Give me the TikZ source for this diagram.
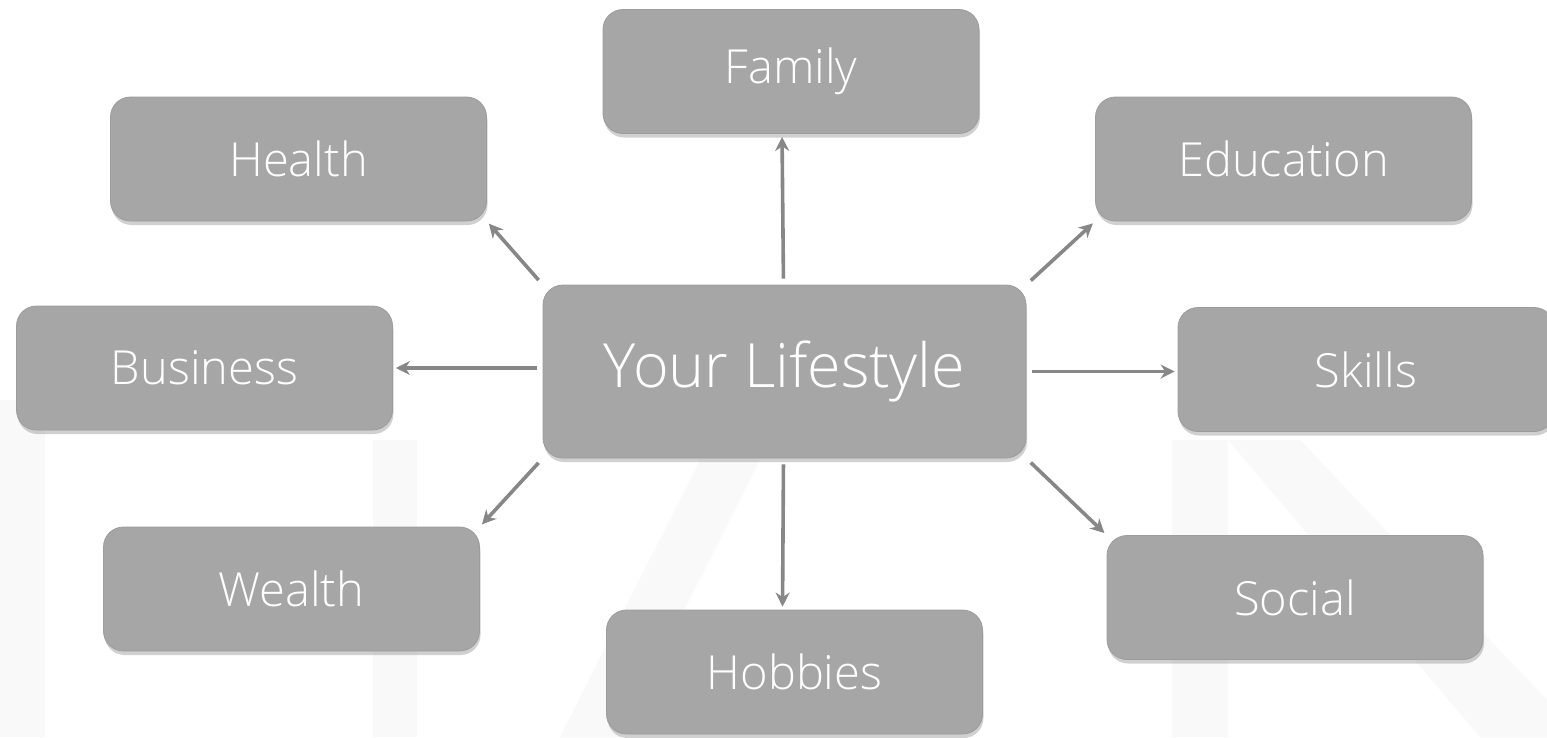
\documentclass[tikz,border=0pt]{standalone}
\usepackage{fontspec}
\setmainfont{Open Sans Light}
\usetikzlibrary{arrows.meta,shadows}
\definecolor{boxfill}{HTML}{A6A6A6}
\definecolor{boxline}{HTML}{9C9C9C}
\definecolor{arrowgray}{HTML}{878787}
\definecolor{markgray}{HTML}{F9F9F9}
\tikzset{
  topic/.style={rectangle, rounded corners=20pt, fill=boxfill, draw=boxline, line width=0.8pt,
    minimum width=376pt, minimum height=124pt, text=white, inner sep=0pt,
    font=\fontsize{47}{50}\selectfont,
    drop shadow={shadow xshift=1pt, shadow yshift=-4pt, opacity=0.3, fill=black!60}},
  hub/.style={topic, minimum width=483pt, minimum height=173pt, font=\fontsize{61}{64}\selectfont},
  link/.style={draw=arrowgray, line width=3.6pt, -{Stealth[length=14pt,width=14pt]},
    shorten <=6pt, shorten >=3pt}
}
\begin{document}
\begin{tikzpicture}[x=1pt,y=-1pt]
\useasboundingbox (0,0) rectangle (1547,737);
\fill[white] (0,0) rectangle (1547,737);
% faint letter shapes in the background
\fill[markgray] (0,400) rectangle (45,737);
\fill[markgray] (373,440) rectangle (417,737);
\fill[markgray] (560,737) -- (700,460) -- (760,460) -- (620,737) -- cycle;
\fill[markgray] (1172,440) rectangle (1228,737);
\fill[markgray] (1228,440) -- (1300,440) -- (1547,700) -- (1547,737) -- (1480,737) -- cycle;

% central topic
\node[hub] (c) at (784.5,371.5) {Your Lifestyle};

% surrounding topics
\node[topic] (fam) at (791,71.5)   {Family};
\node[topic] (hea) at (298.5,159)  {Health};
\node[topic] (edu) at (1283.5,159) {Education};
\node[topic] (bus) at (204.5,368)  {Business};
\node[topic] (ski) at (1366,369.5) {Skills};
\node[topic] (wea) at (291.5,589)  {Wealth};
\node[topic] (hob) at (794.5,672)  {Hobbies};
\node[topic] (soc) at (1295,597.5) {Social};

% connectors from the hub
\draw[link] ([xshift=-1pt]c.north) -- ([xshift=-9pt]fam.south);
\draw[link] (c.north west) -- (hea.south east);
\draw[link] (c.north east) -- (edu.south west);
\draw[link] (c.west |- bus.east) -- (bus.east);
\draw[link] (c.east) -- (ski.west |- c.east);
\draw[link] (c.south west) -- (wea.north east);
\draw[link] ([xshift=-1pt]c.south) -- ([xshift=-12pt]hob.north);
\draw[link] (c.south east) -- (soc.north west);
\end{tikzpicture}
\end{document}
